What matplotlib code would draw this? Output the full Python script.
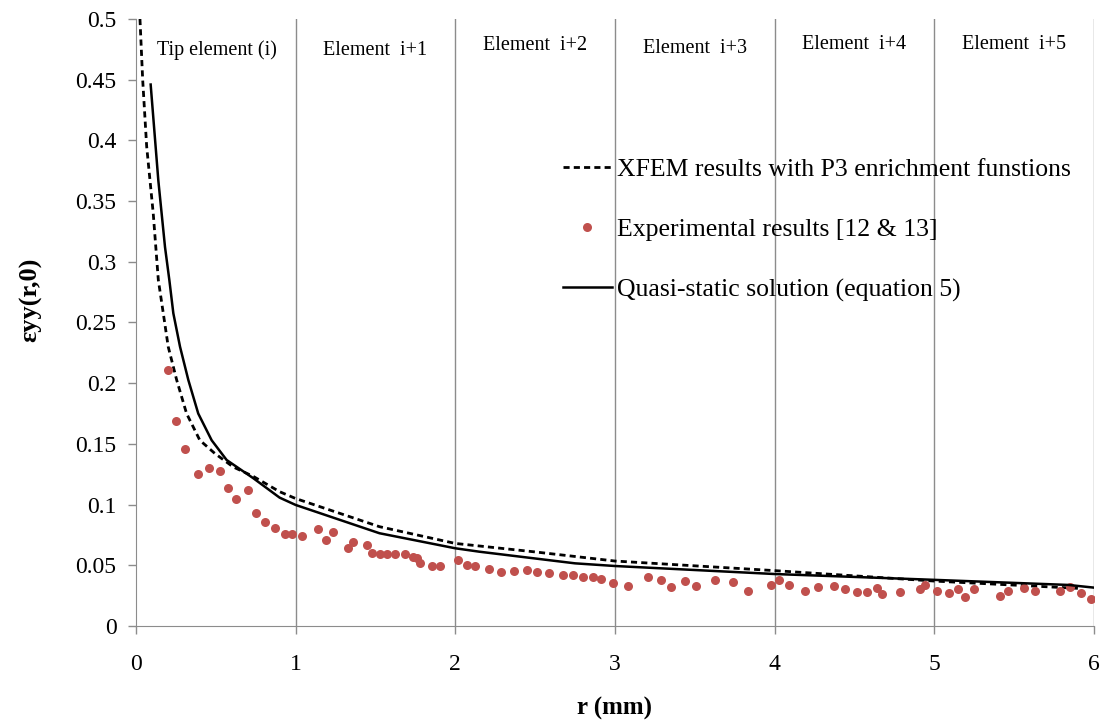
import matplotlib
matplotlib.use("Agg")
import matplotlib.pyplot as plt

# experimental points (red dots)
exp_r = [0.20, 0.25, 0.31, 0.39, 0.455, 0.525, 0.575, 0.625, 0.70, 0.75, 0.81, 0.87,
         0.935, 0.98, 1.04, 1.14, 1.19, 1.235, 1.325, 1.36, 1.45, 1.48, 1.53, 1.575,
         1.625, 1.685, 1.735, 1.76, 1.78, 1.855, 1.905, 2.015, 2.075, 2.125, 2.21, 2.285,
         2.37, 2.45, 2.51, 2.585, 2.675, 2.74, 2.80, 2.86, 2.915, 2.99, 3.085, 3.21,
         3.29, 3.35, 3.44, 3.505, 3.625, 3.74, 3.835, 3.975, 4.025, 4.09, 4.19, 4.27,
         4.375, 4.44, 4.515, 4.58, 4.64, 4.67, 4.785, 4.91, 4.94, 5.02, 5.09, 5.15,
         5.19, 5.25, 5.41, 5.46, 5.56, 5.63, 5.79, 5.85, 5.92, 5.98]
exp_e = [0.211, 0.169, 0.146, 0.125, 0.130, 0.128, 0.114, 0.105, 0.112, 0.093, 0.086, 0.081,
         0.076, 0.076, 0.074, 0.080, 0.071, 0.077, 0.0645, 0.069, 0.0665, 0.060, 0.059, 0.059,
         0.059, 0.059, 0.057, 0.0557, 0.052, 0.0497, 0.049, 0.054, 0.050, 0.049, 0.047, 0.0447,
         0.045, 0.046, 0.0447, 0.0434, 0.0423, 0.0423, 0.040, 0.040, 0.0385, 0.035, 0.033, 0.040,
         0.038, 0.032, 0.037, 0.033, 0.0375, 0.0365, 0.029, 0.0335, 0.0375, 0.0335, 0.029, 0.032,
         0.033, 0.0305, 0.028, 0.028, 0.0315, 0.026, 0.028, 0.0305, 0.0335, 0.029, 0.027, 0.0305,
         0.0235, 0.0305, 0.025, 0.029, 0.031, 0.029, 0.029, 0.032, 0.0275, 0.022]

# XFEM (dashed)
xfem_r = [0.025, 0.042, 0.067, 0.108, 0.140, 0.171, 0.202, 0.255, 0.317, 0.40, 0.495,
          0.609, 0.735, 0.90, 1.0, 1.525, 2.0, 2.5, 3.0, 4.0, 5.0, 5.9]
xfem_e = [0.500, 0.450, 0.395, 0.340, 0.285, 0.2576, 0.230, 0.2026, 0.175, 0.153, 0.142,
          0.131, 0.1232, 0.1106, 0.105, 0.0818, 0.068, 0.061, 0.0535, 0.0456, 0.037, 0.031]

# quasi-static solution (solid)
qs_r = [0.092, 0.140, 0.182, 0.209, 0.234, 0.276, 0.328, 0.390, 0.474, 0.568, 0.735,
        0.90, 1.0, 1.525, 2.0, 2.15, 2.75, 3.0, 4.0, 5.0, 5.84, 6.0]
qs_e = [0.446, 0.367, 0.312, 0.285, 0.2576, 0.230, 0.2026, 0.175, 0.153, 0.1367, 0.1217,
        0.1057, 0.0997, 0.0764, 0.064, 0.0612, 0.0516, 0.0494, 0.0428, 0.038, 0.0338, 0.0316]

elem_labels = ["Tip element (i)", "Element  i+1", "Element  i+2", "Element  i+3",
               "Element  i+4", "Element  i+5"]
elem_x = [0.51, 1.5, 2.5, 3.5, 4.5, 5.5]
elem_y = [0.474, 0.474, 0.478, 0.476, 0.479, 0.479]

plt.rcParams["font.family"] = ["Liberation Serif", "DejaVu Serif"]

fig = plt.figure(figsize=(11.01, 7.22), dpi=100)
ax = fig.add_axes([0.1235, 0.133, 0.870, 0.8407])

grey = "#8c8c8c"
for k in range(1, 7):
    ax.axvline(k, color=grey, lw=1, zorder=0)

ax.plot(xfem_r, xfem_e, "k--", lw=2.0, dashes=(2.2, 1.5),
        label="XFEM results with P3 enrichment funstions")
ax.plot(exp_r, exp_e, "o", color="#c0504d", ms=6.5, mec="none",
        label="Experimental results [12 & 13]")
ax.plot(qs_r, qs_e, "k-", lw=1.8, label="Quasi-static solution (equation 5)")

for t, x, y in zip(elem_labels, elem_x, elem_y):
    ax.text(x, y, t, ha="center", va="center", fontsize=14.5)

ax.set_xlim(0, 6)
ax.set_ylim(0, 0.5)
ax.set_xticks(range(7))
ax.set_yticks([0, 0.05, 0.1, 0.15, 0.2, 0.25, 0.3, 0.35, 0.4, 0.45, 0.5])
ax.set_yticklabels(["0", "0.05", "0.1", "0.15", "0.2", "0.25", "0.3", "0.35",
                    "0.4", "0.45", "0.5"])
ax.tick_params(axis="both", labelsize=17, color=grey, length=6, width=1)
ax.tick_params(axis="x", pad=14)
ax.tick_params(axis="y", pad=8)

for side in ["top", "right"]:
    ax.spines[side].set_visible(False)
for side in ["left", "bottom"]:
    ax.spines[side].set_color(grey)

ax.set_xlabel("r (mm)", fontsize=18, fontweight="bold", labelpad=16)
ax.set_ylabel("εyy(r,0)", fontsize=19, fontweight="bold")
ax.yaxis.set_label_coords(-0.098, 0.537)

leg = ax.legend(loc="upper left", bbox_to_anchor=(0.4457, 0.771), frameon=False,
                fontsize=18.5, handlelength=1.9, handletextpad=0.2, labelspacing=1.45,
                borderaxespad=0, borderpad=0)

fig.savefig("out.png", dpi=100)
